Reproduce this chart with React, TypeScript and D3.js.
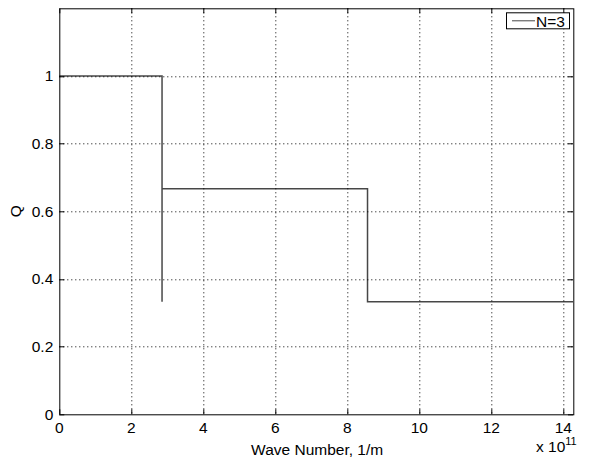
import React, { useEffect, useRef } from 'react';
import * as d3 from 'd3';

// wave number in units of 1e11 1/m
const waveNumber = [0, 2.854, 2.854, 2.854, 2.854, 8.562, 8.562, 14.27];
const qValues = [1, 1, 0.333, 0.452, 0.667, 0.667, 0.333, 0.333];
const xTicks = [0, 2, 4, 6, 8, 10, 12, 14];
const yTicks = [0, 0.2, 0.4, 0.6, 0.8, 1];
const seriesName = 'N=3';

const W = 589;
const H = 460;
const FONT = '"Liberation Sans", Arial, Helvetica, sans-serif';
const FS = '15.5px';

export default function App() {
  const ref = useRef<SVGSVGElement>(null);

  useEffect(() => {
    const margin = { top: 8.3, right: 16, bottom: 45.7, left: 59.3 };
    const width = W - margin.left - margin.right;
    const height = H - margin.top - margin.bottom;

    const svg = d3.select(ref.current);
    svg.selectAll('*').remove();

    const g = svg
      .append('g')
      .attr('transform', 'translate(' + margin.left + ',' + margin.top + ')');

    const x = d3.scaleLinear().domain([0, 14.27]).range([0, width]);
    const y = d3.scaleLinear().domain([0, 1.2]).range([height, 0]);

    // grid
    g.selectAll('.vgrid')
      .data(xTicks.filter((d) => d > 0))
      .enter()
      .append('line')
      .attr('x1', (d) => Math.round(x(d)) + 0.5)
      .attr('x2', (d) => Math.round(x(d)) + 0.5)
      .attr('y1', 0)
      .attr('y2', height)
      .attr('stroke', '#000')
      .attr('stroke-dasharray', '1,3');

    g.selectAll('.hgrid')
      .data(yTicks.filter((d) => d > 0))
      .enter()
      .append('line')
      .attr('x1', 0)
      .attr('x2', width)
      .attr('y1', (d) => Math.round(y(d)) + 0.5)
      .attr('y2', (d) => Math.round(y(d)) + 0.5)
      .attr('stroke', '#000')
      .attr('stroke-dasharray', '1,3');

    // data line
    const line = d3
      .line<number>()
      .x((d, i) => x(waveNumber[i]))
      .y((d) => y(d));

    g.append('path')
      .datum(qValues)
      .attr('d', line)
      .attr('fill', 'none')
      .attr('stroke', '#000')
      .attr('stroke-opacity', 0.72)
      .attr('stroke-width', 1.5);

    // ticks on all four sides, inward
    const tl = 5;
    xTicks.forEach((t) => {
      const xx = Math.round(x(t)) + 0.5;
      g.append('line').attr('x1', xx).attr('x2', xx).attr('y1', height).attr('y2', height - tl).attr('stroke', '#000');
      g.append('line').attr('x1', xx).attr('x2', xx).attr('y1', 0).attr('y2', tl).attr('stroke', '#000');
      g.append('text')
        .attr('x', x(t))
        .attr('y', height + 19)
        .attr('text-anchor', 'middle')
        .style('font-family', FONT)
        .style('font-size', FS)
        .text(t);
    });
    yTicks.forEach((t) => {
      const yy = Math.round(y(t)) + 0.5;
      g.append('line').attr('x1', 0).attr('x2', tl).attr('y1', yy).attr('y2', yy).attr('stroke', '#000');
      g.append('line').attr('x1', width).attr('x2', width - tl).attr('y1', yy).attr('y2', yy).attr('stroke', '#000');
      g.append('text')
        .attr('x', -6)
        .attr('y', y(t))
        .attr('dy', '0.35em')
        .attr('text-anchor', 'end')
        .style('font-family', FONT)
        .style('font-size', FS)
        .text(t);
    });

    // frame
    g.append('rect')
      .attr('x', 0.5)
      .attr('y', 0.5)
      .attr('width', Math.round(width))
      .attr('height', Math.round(height))
      .attr('fill', 'none')
      .attr('stroke', '#000');

    // axis labels
    g.append('text')
      .attr('x', width / 2 + 1)
      .attr('y', height + 41)
      .attr('text-anchor', 'middle')
      .style('font-family', FONT)
      .style('font-size', FS)
      .text('Wave Number, 1/m');

    const exp = g
      .append('text')
      .attr('x', width - 37)
      .attr('y', height + 38)
      .style('font-family', FONT)
      .style('font-size', FS);
    exp.append('tspan').text('x 10');
    exp.append('tspan').attr('dy', -7).style('font-size', '11px').text('11');

    g.append('text')
      .attr('transform', 'translate(' + -38 + ',' + height / 2 + ') rotate(-90)')
      .attr('text-anchor', 'middle')
      .style('font-family', FONT)
      .style('font-size', FS)
      .text('Q');

    // legend
    const lg = g.append('g').attr('transform', 'translate(' + (width - 67) + ',4)');
    lg.append('rect')
      .attr('x', 0.5)
      .attr('y', 0.5)
      .attr('width', 63)
      .attr('height', 16)
      .attr('fill', '#fff')
      .attr('stroke', '#000');
    lg.append('line')
      .attr('x1', 6)
      .attr('x2', 29)
      .attr('y1', 8.5)
      .attr('y2', 8.5)
      .attr('stroke', '#000')
      .attr('stroke-opacity', 0.72);
    lg.append('text')
      .attr('x', 30)
      .attr('y', 9)
      .attr('dy', '0.36em')
      .style('font-family', FONT)
      .style('font-size', FS)
      .text(seriesName);
  }, []);

  return (
    <svg
      ref={ref}
      width={W}
      height={H}
      style={{ position: 'absolute', left: 0, top: 0, background: '#fff' }}
    />
  );
}
